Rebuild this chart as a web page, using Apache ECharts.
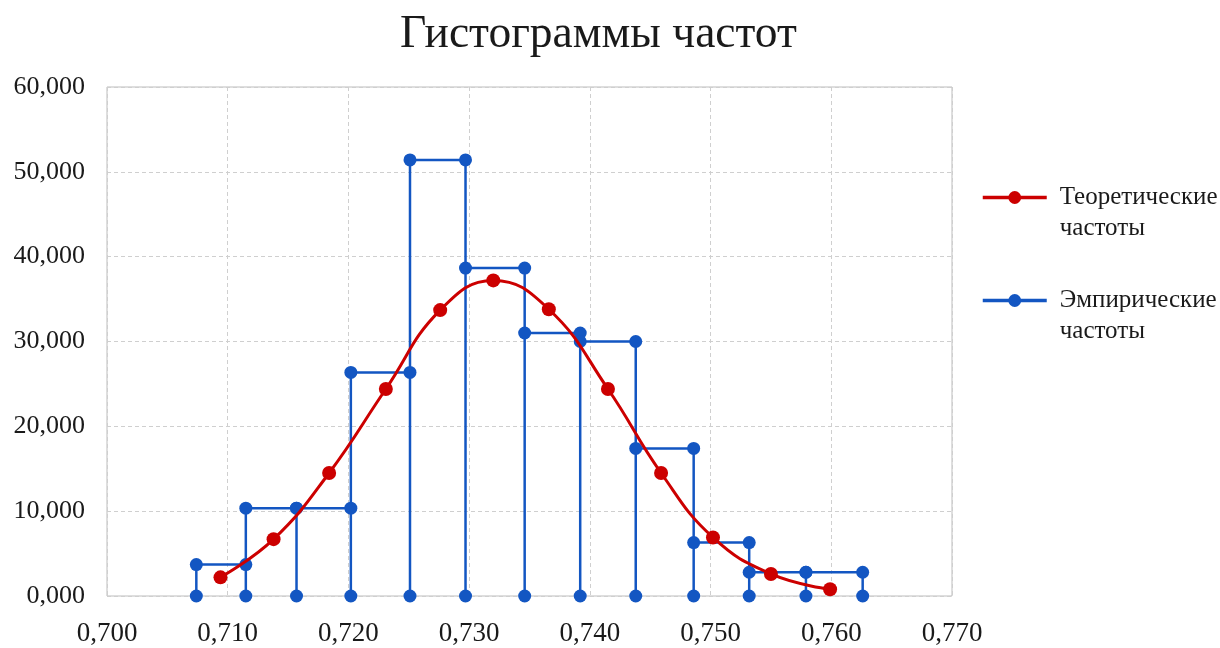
<!DOCTYPE html>
<html>
<head>
<meta charset="utf-8">
<script src="https://cdn.jsdelivr.net/npm/echarts@6/dist/echarts.min.js"></script>
<style>html,body{margin:0;padding:0;background:#fff}#c{width:1220px;height:648px}</style>
</head>
<body>
<div id="c"></div>
<script>
// Interval edges of the empirical histogram and its heights
var binEdges = [0.7074, 0.7115, 0.7157, 0.7202, 0.7251, 0.7297, 0.7346, 0.7392, 0.7438, 0.7486, 0.7532, 0.7579, 0.7626];
var empiricalFreq = [3.7, 10.35, 10.35, 26.35, 51.4, 38.65, 31.0, 30.0, 17.4, 6.3, 2.8, 2.8];
// Theoretical curve points
var theoX = [0.7094, 0.7138, 0.7184, 0.7231, 0.7276, 0.7320, 0.7366, 0.7415, 0.7459, 0.7502, 0.7550, 0.7599];
var theoFreq = [2.2, 6.7, 14.5, 24.4, 33.7, 37.2, 33.8, 24.4, 14.5, 6.9, 2.6, 0.8];
var seriesNames = ['Теоретические частоты', 'Эмпирические частоты'];
var titleText = 'Гистограммы частот';

// Build histogram outline as in a scatter-with-lines chart
var histPts = [[binEdges[0], 0]];
for (var i = 0; i < empiricalFreq.length; i++) {
  histPts.push([binEdges[i], empiricalFreq[i]]);
  histPts.push([binEdges[i + 1], empiricalFreq[i]]);
  histPts.push([binEdges[i + 1], 0]);
}
var theoPts = theoX.map(function (x, i) { return [x, theoFreq[i]]; });

var FONT = '"Liberation Serif", "DejaVu Serif", serif';
var chart = echarts.init(document.getElementById('c'));
chart.setOption({
  animation: false,
  backgroundColor: '#ffffff',
  title: {
    text: titleText,
    left: 395, top: 7,
    textStyle: { fontFamily: FONT, fontSize: 45.5, fontWeight: 'normal', color: '#1a1a1a' }
  },
  legend: {
    orient: 'vertical',
    left: 981, top: 151, padding: 0,
    itemWidth: 64, itemHeight: 16, itemGap: 10,
    formatter: function (n) { return '{e|}\n{t|' + n.replace(' ', '}\n{t|') + '}'; },
    textStyle: {
      fontFamily: FONT, fontSize: 25, color: '#1a1a1a', lineHeight: 31,
      rich: {
        e: { fontFamily: FONT, fontSize: 25, lineHeight: 31 },
        t: { fontFamily: FONT, fontSize: 25, lineHeight: 31, padding: [0, 0, 0, 8], color: '#1a1a1a' }
      }
    },
    lineStyle: { width: 3.5 },
    data: seriesNames
  },
  grid: {
    left: 107, right: 268, top: 87, bottom: 52,
    show: true, borderColor: '#bdbdbd', borderWidth: 1
  },
  xAxis: {
    type: 'value', min: 0.700, max: 0.770, interval: 0.010,
    axisLine: { show: false }, axisTick: { show: false },
    axisLabel: {
      fontFamily: FONT, fontSize: 27, color: '#1a1a1a', margin: 24,
      formatter: function (v) { return v.toFixed(3).replace('.', ','); }
    },
    splitLine: { show: true, lineStyle: { color: '#cfcfcf', type: [4, 3], width: 1 } }
  },
  yAxis: {
    type: 'value', min: 0, max: 60, interval: 10,
    axisLine: { show: false }, axisTick: { show: false },
    axisLabel: {
      fontFamily: FONT, fontSize: 26, color: '#1a1a1a', margin: 22,
      formatter: function (v) { return v.toFixed(3).replace('.', ','); }
    },
    splitLine: { show: true, lineStyle: { color: '#cfcfcf', type: [4, 3], width: 1 } }
  },
  series: [
    {
      name: seriesNames[0], type: 'line', data: theoPts, smooth: 0.45,
      symbol: 'circle', symbolSize: 14,
      lineStyle: { color: '#CC0000', width: 3 },
      itemStyle: { color: '#CC0000' },
      z: 3
    },
    {
      name: seriesNames[1], type: 'line', data: histPts,
      symbol: 'circle', symbolSize: 13,
      lineStyle: { color: '#1356C2', width: 2.5 },
      itemStyle: { color: '#1356C2' },
      z: 2
    }
  ]
});
</script>
</body>
</html>
